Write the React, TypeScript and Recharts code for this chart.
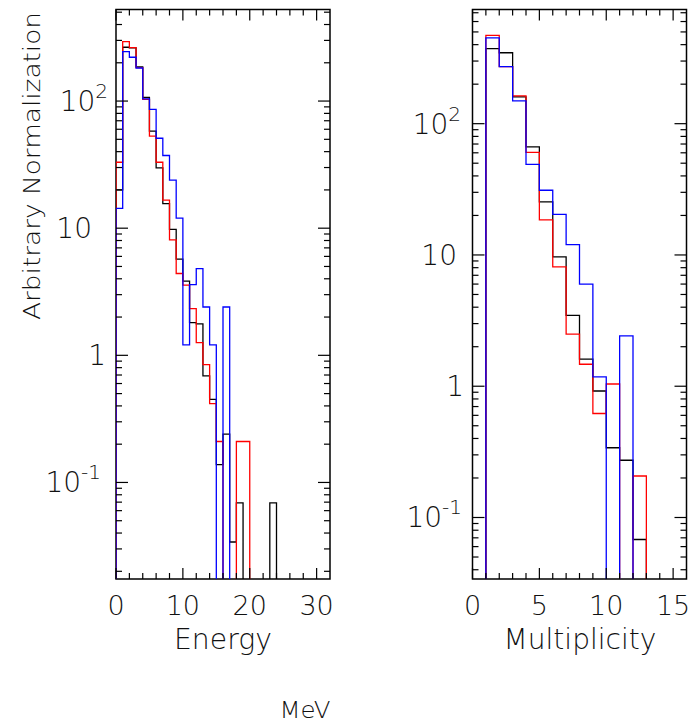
import React from "react";
import { LineChart, Line, XAxis, YAxis, ReferenceArea } from "recharts";

// energy spectra, 1 MeV bins starting at 0
const energyBlack = [20, 265, 262, 186, 107, 58, 29.8, 15.6, 9.8, 5.7, 3.83, 1.81, 1.77, 0.69, 0.45, 0.138, 0.24, 0.034, 0.069, 0, 0, 0, 0, 0.069];
const energyRed = [33, 293, 263, 183, 103, 53, 33, 16.6, 8.1, 4.4, 3.56, 2.33, 1.26, 0.845, 0.417, 0.21, 0, 0, 0.21, 0.21];
const energyBlue = [14.3, 245, 221, 182, 104, 86, 51, 37.3, 23.9, 12, 1.21, 3.6, 4.8, 2.4, 1.21, 0, 2.4];

// multiplicity, unit bins starting at 0
const multBlack = [0, 373, 347, 160, 66.5, 25.4, 9.66, 3.47, 1.61, 0.92, 0.34, 0.273, 0.068];
const multRed = [0, 471, 272, 163, 60.5, 18.5, 8.1, 2.49, 1.47, 0.62, 1.04, 0, 0.207];
const multBlue = [0, 450, 272, 149, 49, 31.1, 20.4, 12, 6.0, 1.18, 0, 2.42];

const energyTicks = [0, 2, 4, 6, 8, 10, 12, 14, 16, 18, 20, 22, 24, 26, 28, 30];
const energyLabels = ["0", "10", "20", "30"];
const multTicks = [0, 1, 2, 3, 4, 5, 6, 7, 8, 9, 10, 11, 12, 13, 14, 15];
const multLabels = ["0", "5", "10", "15"];

const decades = [0.01, 0.1, 1, 10, 100];
const decadeLabels = [
  { v: 0.1, base: "10", exp: "-1" },
  { v: 1, base: "1", exp: "" },
  { v: 10, base: "10", exp: "" },
  { v: 100, base: "10", exp: "2" },
];

const FLOOR = 1e-4;
const TOP = 9.5;
const BOTTOM = 579;
const W = 692;
const H = 726;
const FONT = "'DejaVu Sans ExtraLight', 'DejaVu Sans', sans-serif";

const toSteps = (vals: number[]) => {
  const pts = [{ x: 0, y: FLOOR }];
  vals.forEach((v, i) => pts.push({ x: i, y: v > 0 ? v : FLOOR }));
  pts.push({ x: vals.length, y: FLOOR });
  return pts;
};

const logTicks = (lo: number, hi: number) => {
  const out: number[] = [];
  decades.forEach((d) => {
    for (let m = 1; m <= 9; m++) {
      const v = m * d;
      if (v >= lo && v <= hi) out.push(v);
    }
  });
  return out;
};

type PanelProps = {
  left: number;
  right: number;
  xDomain: [number, number];
  xTicks: number[];
  xLabels: string[];
  yDomain: [number, number];
  labelEdge: Record<string, number>;
  black: number[];
  red: number[];
  blue: number[];
};

function Panel({ left, right, xDomain, xTicks, xLabels, yDomain, labelEdge, black, red, blue }: PanelProps) {
  const yTicks = logTicks(yDomain[0], yDomain[1]);
  const majorStep = Number(xLabels[1]);

  const xTick = (p: any) => {
    const v = p.payload.value;
    const x = p.x;
    const major = v % majorStep === 0;
    const len = major ? 11 : 6;
    return (
      <g>
        <line x1={x} x2={x} y1={BOTTOM} y2={BOTTOM - len} stroke="#000" strokeWidth={1.2} />
        <line x1={x} x2={x} y1={TOP} y2={TOP + len} stroke="#000" strokeWidth={1.2} />
        {major && (
          <text x={x} y={615} textAnchor="middle" fontFamily={FONT} fontWeight={200} fontSize={27} fill="#111">
            {String(v)}
          </text>
        )}
      </g>
    );
  };

  const yTick = (p: any) => {
    const v = p.payload.value;
    const y = p.y;
    const lab = decadeLabels.find((d) => Math.abs(Math.log10(d.v) - Math.log10(v)) < 1e-6);
    const len = lab ? 12 : 6;
    return (
      <g>
        <line x1={left} x2={left + len} y1={y} y2={y} stroke="#000" strokeWidth={1.2} />
        <line x1={right} x2={right - len} y1={y} y2={y} stroke="#000" strokeWidth={1.2} />
        {lab && (
          <text x={labelEdge[String(lab.v)]} y={y + 10} textAnchor="end" fontFamily={FONT} fontWeight={200} fontSize={28} fill="#111">
            {lab.base}
            {lab.exp && (
              <tspan dy={-13} fontSize={20}>
                {lab.exp}
              </tspan>
            )}
          </text>
        )}
      </g>
    );
  };

  return (
    <div style={{ position: "absolute", left: 0, top: 0 }}>
      <LineChart width={W} height={H} margin={{ top: TOP, bottom: H - BOTTOM - 1, left: left - 1, right: W - right }}>
        <XAxis
          type="number"
          dataKey="x"
          domain={xDomain}
          ticks={xTicks}
          interval={0}
          height={1}
          axisLine={false}
          tickLine={false}
          tick={xTick}
          allowDataOverflow
        />
        <YAxis
          type="number"
          scale="log"
          domain={yDomain}
          ticks={yTicks}
          interval={0}
          width={1}
          axisLine={false}
          tickLine={false}
          tick={yTick}
          allowDataOverflow
        />
        <Line data={toSteps(black)} dataKey="y" type="stepAfter" stroke="#000000" strokeWidth={1.3} dot={false} isAnimationActive={false} />
        <Line data={toSteps(red)} dataKey="y" type="stepAfter" stroke="#ff0000" strokeWidth={1.3} dot={false} isAnimationActive={false} />
        <Line data={toSteps(blue)} dataKey="y" type="stepAfter" stroke="#0000ff" strokeWidth={1.3} dot={false} isAnimationActive={false} />
        <ReferenceArea
          x1={xDomain[0]}
          x2={xDomain[1]}
          y1={yDomain[0]}
          y2={yDomain[1]}
          fill="none"
          fillOpacity={0}
          stroke="#000"
          strokeWidth={1.5}
          ifOverflow="visible"
        />
      </LineChart>
    </div>
  );
}

export default function App() {
  return (
    <div style={{ position: "absolute", left: 0, top: 0, width: W, height: H, background: "#fff", overflow: "hidden" }}>
      <Panel
        left={116}
        right={330}
        xDomain={[0, 32]}
        xTicks={energyTicks}
        xLabels={energyLabels}
        yDomain={[0.0174, 525]}
        labelEdge={{ "0.1": 101, "1": 106, "10": 92, "100": 108 }}
        black={energyBlack}
        red={energyRed}
        blue={energyBlue}
      />
      <Panel
        left={472.5}
        right={686.5}
        xDomain={[0, 16]}
        xTicks={multTicks}
        xLabels={multLabels}
        yDomain={[0.034, 741]}
        labelEdge={{ "0.1": 462, "1": 464, "10": 457, "100": 461 }}
        black={multBlack}
        red={multRed}
        blue={multBlue}
      />
      <svg width={W} height={H} style={{ position: "absolute", left: 0, top: 0, pointerEvents: "none" }}>
        <g fontFamily={FONT} fontWeight={200} fill="#111">
          <text x={40} y={166} transform="rotate(-90 40 166)" textAnchor="middle" fontSize={23} textLength={308} lengthAdjust="spacingAndGlyphs">
            Arbitrary Normalization
          </text>
          <text x={223} y={649} textAnchor="middle" fontSize={29} textLength={98} lengthAdjust="spacingAndGlyphs">
            Energy
          </text>
          <text x={580} y={649} textAnchor="middle" fontSize={29} textLength={153} lengthAdjust="spacingAndGlyphs">
            Multiplicity
          </text>
          <text x={305} y={718} textAnchor="middle" fontSize={23} textLength={51} lengthAdjust="spacingAndGlyphs">
            MeV
          </text>
        </g>
      </svg>
    </div>
  );
}
